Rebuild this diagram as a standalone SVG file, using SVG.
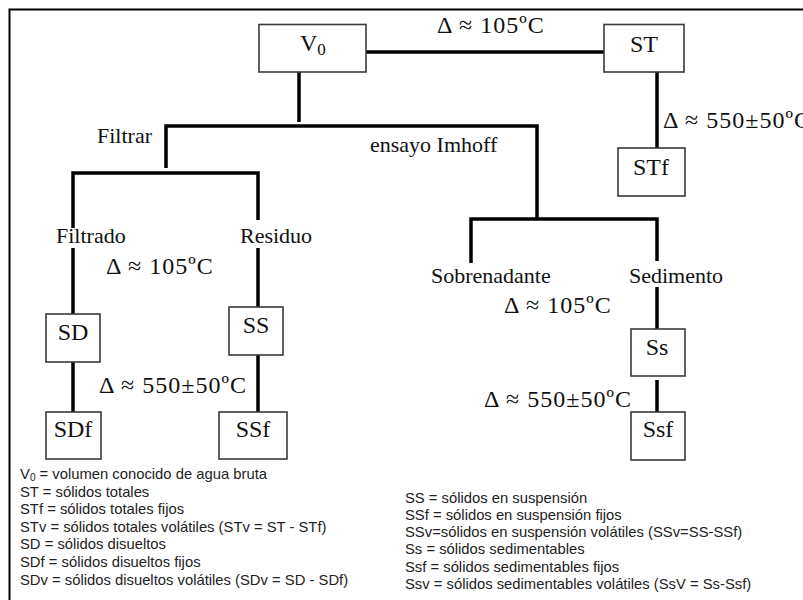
<svg xmlns="http://www.w3.org/2000/svg" width="803" height="600" viewBox="0 0 803 600">
<style>
.box{fill:#fff;stroke:#3a3a3a;stroke-width:1.6}
.n{font-family:"Liberation Serif","Times New Roman",serif;font-size:24px;fill:#111;text-anchor:middle}
.l{font-family:"Liberation Serif","Times New Roman",serif;font-size:22px;fill:#111}
.d{font-family:"Liberation Serif","Times New Roman",serif;font-size:24px;fill:#111;letter-spacing:1px}
.c{fill:none;stroke:#000;stroke-width:3.5;stroke-linejoin:miter}
.g{font-family:"Liberation Sans",Arial,sans-serif;font-size:14.8px;fill:#222}
</style>
<rect width="803" height="600" fill="#fff"/>
<path d="M9.5,602 V9.5 H805" fill="none" stroke="#000" stroke-width="2"/>
<g id="connectors">
<path class="c" d="M366,52 H604"/>
<path class="c" d="M657,72 V148"/>
<path class="c" d="M299,72 V122"/>
<path class="c" d="M166,168 V126 H537 V219"/>
<path class="c" d="M73,228 V173 H258 V220"/>
<path class="c" d="M471,263 V219 H657 V261"/>
<path class="c" d="M73,248 V314"/>
<path class="c" d="M258,248 V307"/>
<path class="c" d="M73,362 V412"/>
<path class="c" d="M258,355 V412"/>
<path class="c" d="M657,287 V329"/>
<path class="c" d="M657,380 V412"/>
</g>
<g id="V0"><rect class="box" x="259" y="24.5" width="107" height="47.5"/><text class="n" x="300" y="51" style="text-anchor:start">V<tspan font-size="17" dy="4">0</tspan></text></g>
<g id="ST"><rect class="box" x="604" y="24.5" width="80" height="47.5"/><text class="n" x="644" y="52">ST</text></g>
<g id="STf"><rect class="box" x="618" y="148" width="67" height="48"/><text class="n" x="651" y="175">STf</text></g>
<g id="SD"><rect class="box" x="46" y="314" width="54" height="48"/><text class="n" x="73" y="340">SD</text></g>
<g id="SS"><rect class="box" x="229" y="307" width="54" height="48"/><text class="n" x="256" y="333">SS</text></g>
<g id="SDf"><rect class="box" x="46" y="412" width="55" height="47"/><text class="n" x="73" y="437">SDf</text></g>
<g id="SSf"><rect class="box" x="219" y="412" width="68" height="47"/><text class="n" x="253" y="437">SSf</text></g>
<g id="Ss"><rect class="box" x="631" y="329" width="54" height="47"/><text class="n" x="657" y="355">Ss</text></g>
<g id="Ssf"><rect class="box" x="631" y="412" width="54" height="48"/><text class="n" x="658" y="437">Ssf</text></g>
<g id="labels">
<text class="d" x="437" y="33">Δ ≈ 105ºC</text>
<text class="d" x="663" y="128">Δ ≈ 550±50ºC</text>
<text class="l" x="97" y="143">Filtrar</text>
<text class="l" x="370" y="152">ensayo Imhoff</text>
<text class="l" x="56" y="243">Filtrado</text>
<text class="l" x="240" y="243">Residuo</text>
<text class="d" x="106" y="274">Δ ≈ 105ºC</text>
<text class="d" x="99" y="393">Δ ≈ 550±50ºC</text>
<text class="l" x="431" y="283">Sobrenadante</text>
<text class="l" x="629" y="283">Sedimento</text>
<text class="d" x="504" y="313">Δ ≈ 105ºC</text>
<text class="d" x="484" y="407">Δ ≈ 550±50ºC</text>
</g>
<g id="legend-left">
<text class="g" x="20" y="479">V<tspan font-size="10" dy="2">0</tspan><tspan dy="-2"> = volumen conocido de agua bruta</tspan></text>
<text class="g" x="20" y="497">ST = sólidos totales</text>
<text class="g" x="20" y="514">STf = sólidos totales fijos</text>
<text class="g" x="20" y="532">STv = sólidos totales volátiles (STv = ST - STf)</text>
<text class="g" x="20" y="549">SD = sólidos disueltos</text>
<text class="g" x="20" y="567">SDf = sólidos disueltos fijos</text>
<text class="g" x="20" y="585">SDv = sólidos disueltos volátiles (SDv = SD - SDf)</text>
</g>
<g id="legend-right">
<text class="g" x="405" y="503">SS = sólidos en suspensión</text>
<text class="g" x="405" y="520">SSf = sólidos en suspensión fijos</text>
<text class="g" x="405" y="537">SSv=sólidos en suspensión volátiles (SSv=SS-SSf)</text>
<text class="g" x="405" y="554">Ss = sólidos sedimentables</text>
<text class="g" x="405" y="572">Ssf = sólidos sedimentables fijos</text>
<text class="g" x="405" y="589">Ssv = sólidos sedimentables volátiles (SsV = Ss-Ssf)</text>
</g>
</svg>
